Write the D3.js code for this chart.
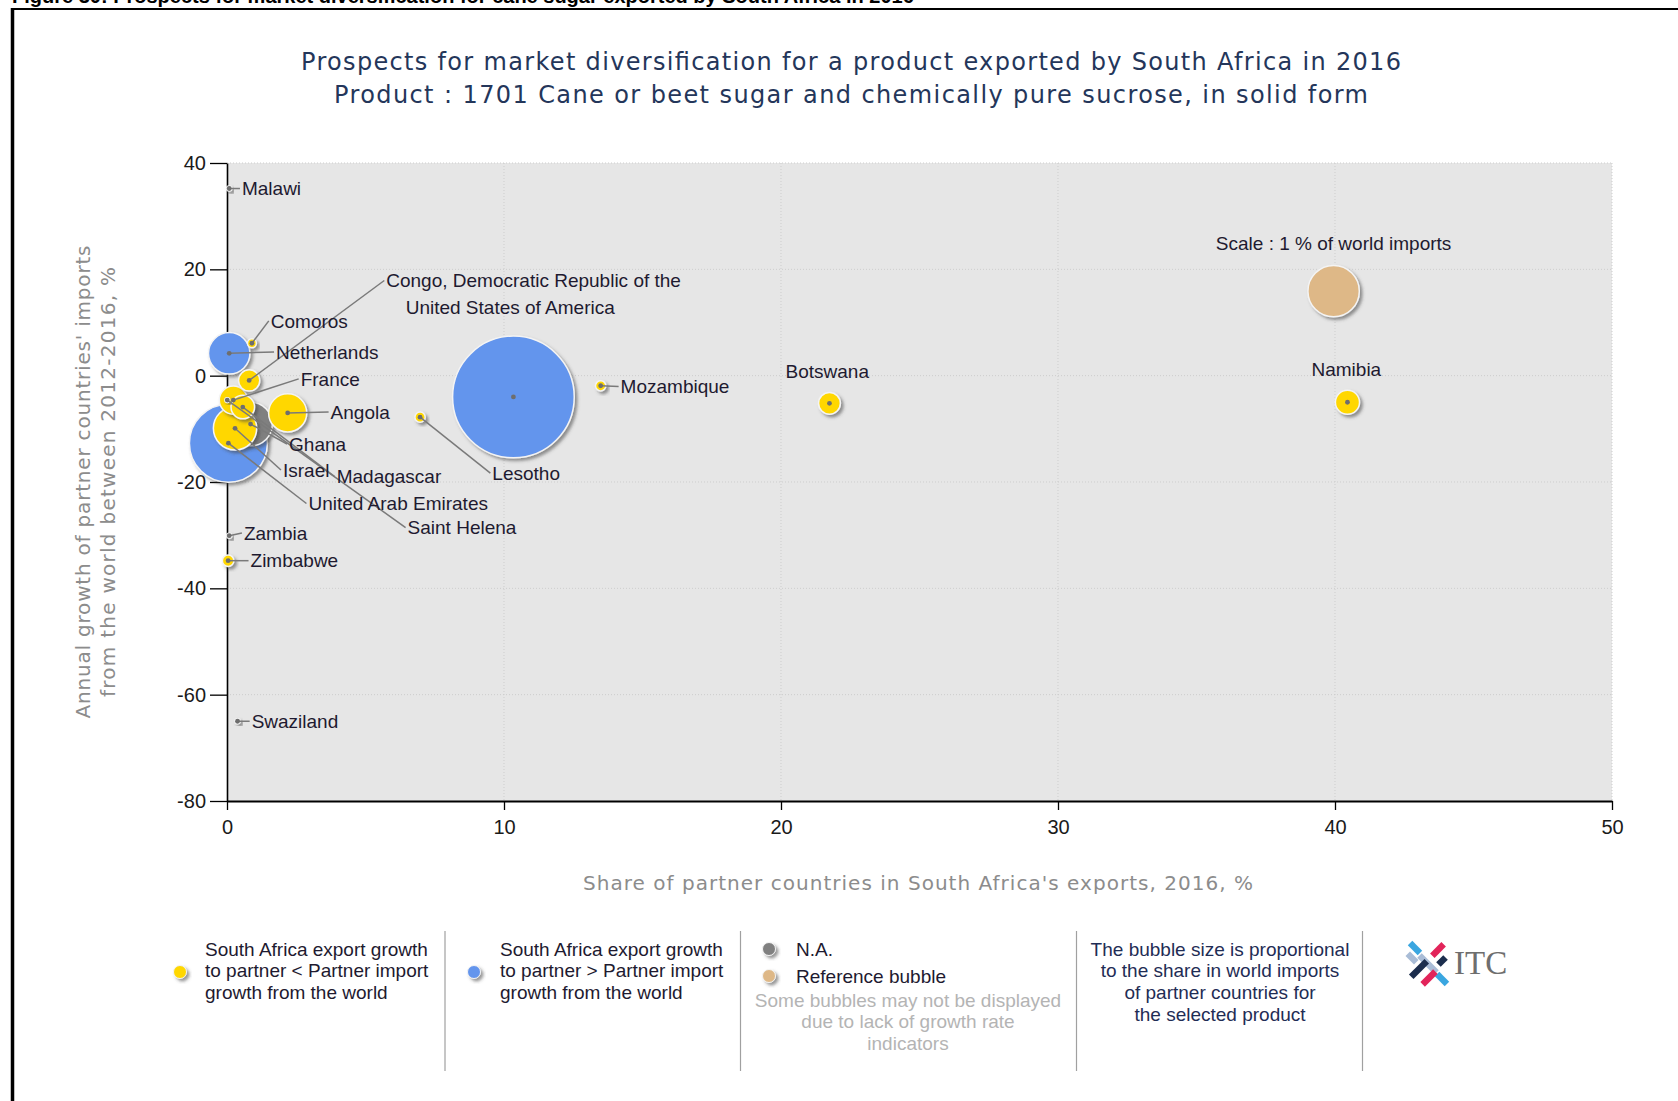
<!DOCTYPE html>
<html>
<head>
<meta charset="utf-8">
<title>Prospects for market diversification - South Africa 2016</title>
<script src="https://cdn.jsdelivr.net/npm/d3@7"></script>
<style>
  body { margin: 0; background: #fff; }
  svg { display: block; }
</style>
</head>
<body>
<div id="container"></div>
<script>

// partner countries
const countries = ["Malawi", "Comoros", "Netherlands", "Congo, Democratic Republic of the", "France",
  "Madagascar", "Saint Helena", "Ghana", "Israel", "United Arab Emirates", "Angola", "Lesotho",
  "United States of America", "Mozambique", "Botswana", "Namibia", "Zambia", "Zimbabwe", "Swaziland"];
// share in South Africa's exports, %
const exportShare = [0.08, 0.9, 0.08, 0.8, 0.23, 0.57, 0.01, 0.85, 0.29, 0.05, 2.19, 6.97,
  10.34, 13.49, 21.75, 40.45, 0.08, 0.04, 0.38];
// annual growth of partner imports 2012-2016, %
const importGrowth = [35.2, 6.1, 4.2, -0.9, -4.6, -5.9, -4.6, -9.1, -9.9, -12.7, -7.0, -7.8,
  -4.0, -1.9, -5.2, -5.0, -30.1, -34.8, -65.0];
// share in world imports, % (bubble size)
const worldImportShare = [0.01, 0.03, 0.65, 0.17, 0.30, 0.21, 0.005, 0.72, 0.71, 2.3, 0.55, 0.04,
  5.6, 0.04, 0.18, 0.22, 0.01, 0.05, 0.01];
const group = ["na", "lower", "higher", "lower", "lower", "lower", "lower", "na", "lower", "higher",
  "lower", "lower", "higher", "lower", "lower", "lower", "na", "lower", "na"];

// where each label sits, in data units
const labelShare = [0.54, 1.58, 1.77, 5.75, 2.66, 3.96, 6.52, 2.24, 2.02, 2.94, 3.74, 9.58,
  6.45, 14.21, 21.67, 40.41, 0.61, 0.85, 0.89];
const labelGrowth = [35.2, 10.3, 4.46, 17.9, -0.6, -19.0, -28.57, -12.85, -17.74, -24.04, -6.83, -18.34,
  12.9, -2.03, 0.81, 1.22, -29.59, -34.8, -65.0];
const noLeader = ["United States of America", "Botswana", "Namibia"];
const centeredLabel = ["Botswana", "Namibia"];

// reference bubble
const refShare = 39.95, refGrowth = 15.9, refSize = 1;
const refLabel = "Scale : 1 % of world imports", refLabelGrowth = 24.8;

const xTicks = [0, 10, 20, 30, 40, 50];
const yTicks = [40, 20, 0, -20, -40, -60, -80];

const colors = { lower: "#FFD700", higher: "#6495ED", na: "#808080", ref: "#DEB887" };

const width = 1678, height = 1101;
const margin = { left: 227, right: 66, top: 163, bottom: 300 };

const svg = d3.select("#container").append("svg")
    .attr("width", width)
    .attr("height", height);

const defs = svg.append("defs");
defs.append("filter").attr("id", "shadow")
    .attr("x", "-30%").attr("y", "-30%").attr("width", "170%").attr("height", "170%")
  .append("feDropShadow")
    .attr("dx", 2.5).attr("dy", 2.5).attr("stdDeviation", 1.6)
    .attr("flood-color", "#444").attr("flood-opacity", 0.55);

// frame + caption (cut by the top of the page, as in the source)
svg.append("text")
    .attr("x", 12).attr("y", 3)
    .style("font-family", "Liberation Sans, Arial, sans-serif")
    .style("font-weight", "bold").style("font-size", "20px")
    .text("Figure 30: Prospects for market diversification for cane sugar exported by South Africa in 2016");
svg.append("line").attr("x1", 11).attr("x2", width).attr("y1", 9).attr("y2", 9)
    .attr("stroke", "#000").attr("stroke-width", 2);
svg.append("line").attr("x1", 12.5).attr("x2", 12.5).attr("y1", 8).attr("y2", height)
    .attr("stroke", "#000").attr("stroke-width", 3.5);

// title
const title = svg.append("text")
    .attr("text-anchor", "middle")
    .style("font-family", "DejaVu Sans, Verdana, sans-serif")
    .style("font-size", "24px")
    .style("fill", "#24365a");
title.append("tspan").attr("x", 851).attr("y", 70)
    .attr("textLength", 1100).attr("lengthAdjust", "spacing")
    .text("Prospects for market diversification for a product exported by South Africa in 2016");
title.append("tspan").attr("x", 851).attr("y", 103)
    .attr("textLength", 1034).attr("lengthAdjust", "spacing")
    .text("Product : 1701 Cane or beet sugar and chemically pure sucrose, in solid form");

const x = d3.scaleLinear().domain([0, 50]).range([margin.left, width - margin.right]);
const y = d3.scaleLinear().domain([-80, 40]).range([height - margin.bottom, margin.top]);
const r = d3.scaleSqrt().domain([0, 1]).range([0, 25.7]);

// plot background
svg.append("rect")
    .attr("x", x(0)).attr("y", y(40))
    .attr("width", x(50) - x(0)).attr("height", y(-80) - y(40))
    .attr("fill", "#e6e6e6");

// grid
svg.append("g").selectAll("line")
    .data(xTicks.slice(1))
    .join("line")
    .attr("x1", d => x(d)).attr("x2", d => x(d))
    .attr("y1", y(40)).attr("y2", y(-80))
    .attr("stroke", "#cdcdcd").attr("stroke-dasharray", "1,2");
svg.append("g").selectAll("line")
    .data(yTicks.slice(0, -1))
    .join("line")
    .attr("x1", x(0)).attr("x2", x(50))
    .attr("y1", d => y(d)).attr("y2", d => y(d))
    .attr("stroke", "#cdcdcd").attr("stroke-dasharray", "1,2");

// axes
const plain = d => String(d);
const yAxis = svg.append("g")
    .attr("transform", `translate(${x(0)},0)`)
    .call(d3.axisLeft(y).tickValues(yTicks).tickFormat(plain).tickSize(17).tickSizeOuter(0).tickPadding(4));
const xAxis = svg.append("g")
    .attr("transform", `translate(0,${y(-80)})`)
    .call(d3.axisBottom(x).tickValues(xTicks).tickFormat(plain).tickSize(9).tickSizeOuter(0).tickPadding(10));
[xAxis, yAxis].forEach(function(a) {
  a.select(".domain").attr("stroke", "#000").attr("stroke-width", 1.6);
  a.selectAll(".tick line").attr("stroke", "#000").attr("stroke-width", 1.3);
  a.selectAll("text")
    .style("font-family", "Liberation Sans, Arial, sans-serif")
    .style("font-size", "20px")
    .style("fill", "#1a1a1a");
});
xAxis.select(".domain").attr("stroke-width", 2.2);

// axis titles
svg.append("text")
    .attr("x", 918).attr("y", 890)
    .attr("text-anchor", "middle")
    .attr("textLength", 670).attr("lengthAdjust", "spacing")
    .style("font-family", "DejaVu Sans, Verdana, sans-serif")
    .style("font-size", "20px")
    .style("fill", "#8c8c8c")
    .text("Share of partner countries in South Africa's exports, 2016, %");
const yTitle = svg.append("text")
    .attr("transform", `translate(0, ${(y(40) + y(-80)) / 2}) rotate(-90)`)
    .attr("text-anchor", "middle")
    .style("font-family", "DejaVu Sans, Verdana, sans-serif")
    .style("font-size", "20px")
    .style("fill", "#8c8c8c");
yTitle.append("tspan").attr("x", 0).attr("y", 90)
    .attr("textLength", 473).attr("lengthAdjust", "spacing")
    .text("Annual growth of partner countries' imports");
yTitle.append("tspan").attr("x", 0).attr("y", 115)
    .attr("textLength", 430).attr("lengthAdjust", "spacing")
    .text("from the world between 2012-2016, %");

// bubbles
const rows = countries.map((c, i) => ({
  name: c, xs: exportShare[i], g: importGrowth[i], s: worldImportShare[i], grp: group[i],
  lx: labelShare[i], ly: labelGrowth[i]
}));
const ordered = rows.slice().sort((a, b) => b.s - a.s);

const bubbles = svg.append("g");
bubbles.append("circle")
    .attr("cx", x(refShare)).attr("cy", y(refGrowth)).attr("r", r(refSize))
    .attr("fill", colors.ref).attr("stroke", "#f4f4f4").attr("stroke-width", 1.5)
    .attr("filter", "url(#shadow)");
bubbles.selectAll("circle.b")
    .data(ordered)
    .join("circle")
    .attr("class", "b")
    .attr("cx", d => x(d.xs)).attr("cy", d => y(d.g))
    .attr("r", d => Math.max(r(d.s), 2.4))
    .attr("fill", d => colors[d.grp])
    .attr("stroke", "#f4f4f4").attr("stroke-width", 1.5)
    .attr("filter", "url(#shadow)");

// leader lines
const labelFont = "Liberation Sans, Arial, sans-serif";
svg.append("g").selectAll("line")
    .data(rows.filter(d => noLeader.indexOf(d.name) < 0))
    .join("line")
    .attr("x1", d => x(d.xs)).attr("y1", d => y(d.g))
    .attr("x2", d => x(d.lx) - 2).attr("y2", d => y(d.ly))
    .attr("stroke", "#7a7a7a").attr("stroke-width", 1.5);
svg.append("g").selectAll("circle")
    .data(rows)
    .join("circle")
    .attr("cx", d => x(d.xs)).attr("cy", d => y(d.g)).attr("r", 2.4)
    .attr("fill", "#6e6e6e");

svg.append("g").selectAll("text")
    .data(rows)
    .join("text")
    .attr("x", d => x(d.lx)).attr("y", d => y(d.ly))
    .attr("dy", "0.35em")
    .attr("text-anchor", d => centeredLabel.indexOf(d.name) >= 0 ? "middle" : "start")
    .style("font-family", labelFont)
    .style("font-size", "19px")
    .style("fill", "#1e1a30")
    .text(d => d.name);

svg.append("text")
    .attr("x", x(refShare)).attr("y", y(refLabelGrowth)).attr("dy", "0.35em")
    .attr("text-anchor", "middle")
    .style("font-family", labelFont).style("font-size", "19px").style("fill", "#1e1a30")
    .text(refLabel);

// legend
const legend = svg.append("g")
    .style("font-family", labelFont)
    .style("font-size", "19px");
[445, 740.5, 1076.5, 1362.5].forEach(function(lx) {
  legend.append("line").attr("x1", lx).attr("x2", lx).attr("y1", 931).attr("y2", 1071)
      .attr("stroke", "#a0a0a0").attr("stroke-width", 1.2);
});

function legendDot(cx, cy, c) {
  legend.append("circle").attr("cx", cx).attr("cy", cy).attr("r", 6.5)
      .attr("fill", c).attr("stroke", "#f4f4f4").attr("stroke-width", 1)
      .attr("filter", "url(#shadow)");
}
function legendLines(lines, lx, ly, anchor, fill) {
  const t = legend.append("text").attr("text-anchor", anchor).style("fill", fill);
  lines.forEach(function(s, i) {
    t.append("tspan").attr("x", lx).attr("y", ly + i * 21.7).attr("dy", "0.35em").text(s);
  });
}

legendDot(180, 972, colors.lower);
legendLines(["South Africa export growth", "to partner < Partner import", "growth from the world"],
  205, 949, "start", "#1e1a30");
legendDot(474, 972, colors.higher);
legendLines(["South Africa export growth", "to partner > Partner import", "growth from the world"],
  500, 949, "start", "#1e1a30");
legendDot(769, 949, colors.na);
legendDot(769, 976, colors.ref);
legendLines(["N.A."], 796, 949, "start", "#1e1a30");
legendLines(["Reference bubble"], 796, 976, "start", "#1e1a30");
legendLines(["Some bubbles may not be displayed", "due to lack of growth rate", "indicators"],
  908, 1000, "middle", "#b4b4b4");
legendLines(["The bubble size is proportional", "to the share in world imports",
  "of partner countries for", "the selected product"], 1220, 949, "middle", "#1f2d55");

// ITC logo
const logo = svg.append("g").attr("transform", "translate(1428,964)");
const bars = [
  { cx: -13, cy: -16, a: 45, c: "#3aa6e0", l: 14 },
  { cx: -16, cy: -6, a: 45, c: "#a9bcd6", l: 12 },
  { cx: 0, cy: 0, a: 45, c: "#a9bcd6", l: 24 },
  { cx: 14, cy: 15, a: 45, c: "#3aa6e0", l: 14 },
  { cx: 10, cy: -14, a: -45, c: "#e2245a", l: 16 },
  { cx: -9, cy: 5, a: -45, c: "#1b2d4d", l: 22 },
  { cx: 1, cy: 14, a: -45, c: "#e2245a", l: 18 },
  { cx: 14, cy: -3, a: -45, c: "#1b2d4d", l: 10 }
];
logo.selectAll("rect")
    .data(bars)
    .join("rect")
    .attr("x", d => -d.l / 2).attr("y", -3.2)
    .attr("width", d => d.l).attr("height", 6.4)
    .attr("transform", d => `translate(${d.cx},${d.cy}) rotate(${d.a})`)
    .attr("fill", d => d.c);
svg.append("text")
    .attr("x", 1454).attr("y", 974)
    .style("font-family", "Liberation Serif, Times New Roman, serif")
    .style("font-size", "33px")
    .style("fill", "#6e6e6e")
    .text("ITC");

</script>
</body>
</html>
